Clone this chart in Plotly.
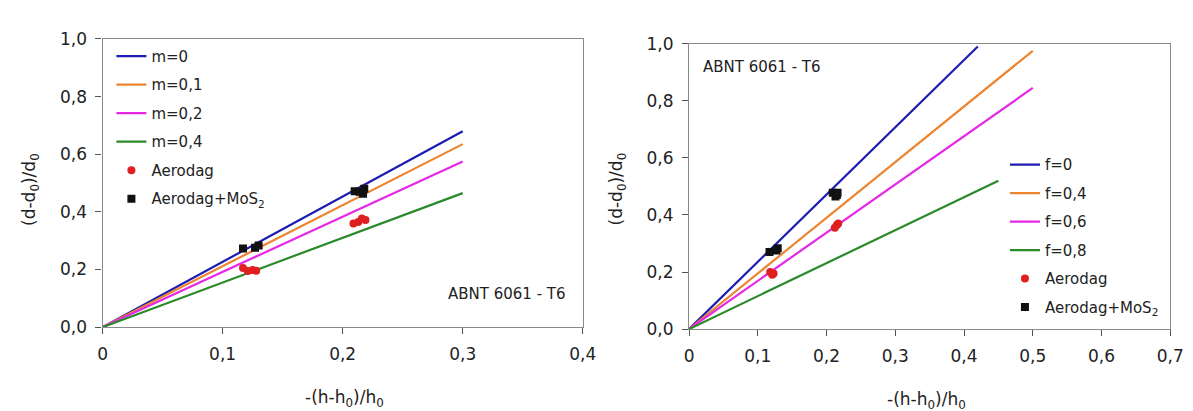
import plotly.graph_objects as go

# ---------------- data ----------------
# Left chart: friction factor m curves
m_labels = ["m=0", "m=0,1", "m=0,2", "m=0,4"]
m_x = [0.0, 0.3]
m_y = [[0.0, 0.68], [0.0, 0.635], [0.0, 0.575], [0.0, 0.465]]

left_aero_x = [0.117, 0.121, 0.125, 0.128, 0.209, 0.213, 0.216, 0.219]
left_aero_y = [0.205, 0.195, 0.198, 0.196, 0.360, 0.365, 0.377, 0.372]
left_mos_x = [0.117, 0.127, 0.130, 0.210, 0.214, 0.217, 0.218]
left_mos_y = [0.273, 0.276, 0.283, 0.472, 0.470, 0.463, 0.480]

# Right chart: friction coefficient f curves
f_labels = ["f=0", "f=0,4", "f=0,6", "f=0,8"]
f_x = [[0.0, 0.42], [0.0, 0.50], [0.0, 0.50], [0.0, 0.45]]
f_y = [[0.0, 0.99], [0.0, 0.975], [0.0, 0.845], [0.0, 0.52]]

right_aero_x = [0.118, 0.121, 0.123, 0.212, 0.215, 0.217]
right_aero_y = [0.200, 0.190, 0.195, 0.355, 0.365, 0.370]
right_mos_x = [0.117, 0.127, 0.129, 0.209, 0.213, 0.215, 0.216]
right_mos_y = [0.270, 0.275, 0.283, 0.478, 0.465, 0.470, 0.478]

left_xticks = [0.0, 0.1, 0.2, 0.3, 0.4]
left_xtick_text = ["0", "0,1", "0,2", "0,3", "0,4"]
right_xticks = [0.0, 0.1, 0.2, 0.3, 0.4, 0.5, 0.6, 0.7]
right_xtick_text = ["0", "0,1", "0,2", "0,3", "0,4", "0,5", "0,6", "0,7"]
yticks = [0.0, 0.2, 0.4, 0.6, 0.8, 1.0]
ytick_text = ["0,0", "0,2", "0,4", "0,6", "0,8", "1,0"]

line_colors = ["#1c1cb0", "#ec8430", "#e628e6", "#2a8a2a"]
red = "#e02020"
black = "#111111"

W, H = 1193, 411
FONT = "DejaVu Sans, Liberation Sans, sans-serif"

fig = go.Figure()

# ---- left chart traces ----
for i, (lab, ys) in enumerate(zip(m_labels, m_y)):
    fig.add_trace(go.Scatter(x=m_x, y=ys, mode="lines", name=lab,
                             line=dict(color=line_colors[i], width=2.2),
                             xaxis="x", yaxis="y", legend="legend",
                             legendgroup="L" + str(i)))
fig.add_trace(go.Scatter(x=left_aero_x, y=left_aero_y, mode="markers", name="Aerodag",
                         marker=dict(color=red, size=8, symbol="circle"),
                         xaxis="x", yaxis="y", legend="legend", legendgroup="L4"))
fig.add_trace(go.Scatter(x=left_mos_x, y=left_mos_y, mode="markers",
                         name="Aerodag+MoS<sub>2</sub>",
                         marker=dict(color=black, size=8, symbol="square"),
                         xaxis="x", yaxis="y", legend="legend", legendgroup="L5"))

# ---- right chart traces ----
for i, (lab, xs, ys) in enumerate(zip(f_labels, f_x, f_y)):
    fig.add_trace(go.Scatter(x=xs, y=ys, mode="lines", name=lab,
                             line=dict(color=line_colors[i], width=2.2),
                             xaxis="x2", yaxis="y2", legend="legend2",
                             legendgroup="R" + str(i)))
fig.add_trace(go.Scatter(x=right_aero_x, y=right_aero_y, mode="markers", name="Aerodag",
                         marker=dict(color=red, size=8, symbol="circle"),
                         xaxis="x2", yaxis="y2", legend="legend2", legendgroup="R4"))
fig.add_trace(go.Scatter(x=right_mos_x, y=right_mos_y, mode="markers",
                         name="Aerodag+MoS<sub>2</sub>",
                         marker=dict(color=black, size=8, symbol="square"),
                         xaxis="x2", yaxis="y2", legend="legend2", legendgroup="R5"))

axis_common = dict(showgrid=False, zeroline=False, showline=True, linecolor="#8a8a8a",
                   linewidth=1.2, mirror=True, ticks="outside", ticklen=6,
                   tickcolor="#555", tickwidth=1, ticklabelstandoff=5,
                   tickfont=dict(family=FONT, size=17, color="#222"))

def px_x(p):
    return p / W

def px_y(p):
    return (H - p) / H

fig.update_layout(
    width=W, height=H, autosize=False,
    margin=dict(l=0, r=0, t=0, b=0),
    paper_bgcolor="white", plot_bgcolor="white",
    showlegend=True,
    xaxis=dict(domain=[px_x(91), px_x(579)], range=[0, 0.4],
               tickvals=left_xticks, ticktext=left_xtick_text, anchor="y", **axis_common),
    yaxis=dict(domain=[px_y(325), px_y(22)], range=[0, 1.0],
               tickvals=yticks, ticktext=ytick_text, anchor="x", **axis_common),
    xaxis2=dict(domain=[px_x(687), px_x(1176)], range=[0, 0.7],
                tickvals=right_xticks, ticktext=right_xtick_text, anchor="y2", **axis_common),
    yaxis2=dict(domain=[px_y(327), px_y(27)], range=[0, 1.0],
                tickvals=yticks, ticktext=ytick_text, anchor="x2", **axis_common),
    legend=dict(x=px_x(100), y=px_y(23), xanchor="left", yanchor="top",
                bgcolor="rgba(0,0,0,0)", tracegroupgap=6,
                font=dict(family=FONT, size=15, color="#222")),
    legend2=dict(x=px_x(1008), y=px_y(137), xanchor="left", yanchor="top",
                 bgcolor="rgba(0,0,0,0)", tracegroupgap=6,
                 font=dict(family=FONT, size=15, color="#222")),
)

ann_font = dict(family=FONT, size=15, color="#222")
title_font = dict(family=FONT, size=17, color="#222")
fig.add_annotation(text="ABNT 6061 - T6", xref="paper", yref="paper",
                   x=px_x(440), y=px_y(290), xanchor="left", yanchor="middle",
                   showarrow=False, font=ann_font)
fig.add_annotation(text="ABNT 6061 - T6", xref="paper", yref="paper",
                   x=px_x(699), y=px_y(52), xanchor="left", yanchor="middle",
                   showarrow=False, font=ann_font)
# axis titles
fig.add_annotation(text="-(h-h<sub>0</sub>)/h<sub>0</sub>", xref="paper", yref="paper",
                   x=px_x(337), y=px_y(400), xanchor="center", yanchor="middle",
                   showarrow=False, font=title_font)
fig.add_annotation(text="-(h-h<sub>0</sub>)/h<sub>0</sub>", xref="paper", yref="paper",
                   x=px_x(928), y=px_y(402), xanchor="center", yanchor="middle",
                   showarrow=False, font=title_font)
fig.add_annotation(text="(d-d<sub>0</sub>)/d<sub>0</sub>", xref="paper", yref="paper",
                   x=px_x(18), y=px_y(180), xanchor="center", yanchor="middle",
                   textangle=-90, showarrow=False, font=title_font)
fig.add_annotation(text="(d-d<sub>0</sub>)/d<sub>0</sub>", xref="paper", yref="paper",
                   x=px_x(614), y=px_y(180), xanchor="center", yanchor="middle",
                   textangle=-90, showarrow=False, font=title_font)

fig.write_html("out.html")
